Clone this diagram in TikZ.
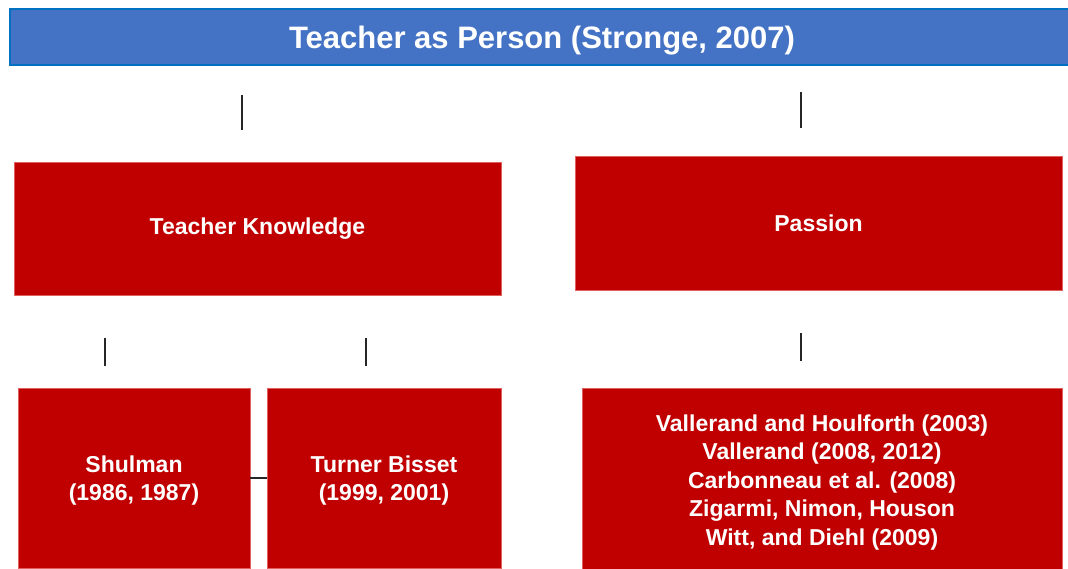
\documentclass[tikz,border=0pt]{standalone}
\usepackage{fontspec}
\setmainfont{Liberation Sans}
\usetikzlibrary{positioning}
\definecolor{barblue}{HTML}{4472C4}
\definecolor{baredge}{HTML}{0070C0}
\definecolor{boxred}{HTML}{C00000}
\definecolor{boxedge}{HTML}{E06060}

\tikzset{
  redbox/.style={draw=boxedge, line width=0.7pt, fill=boxred, text=white, align=center,
    inner sep=0pt, font=\fontsize{23}{28.5}\selectfont\bfseries},
  stub/.style={line width=1.5pt, black!85}
}

\begin{document}
\begin{tikzpicture}[x=1pt,y=-1pt]
\useasboundingbox (0,0) rectangle (1068,569);
\clip (0,0) rectangle (1068,569);

% Title bar
\node[draw=baredge, line width=2pt, fill=barblue, text=white, minimum width=1064pt, minimum height=56pt,
  text depth=0pt, font=\fontsize{31}{36}\selectfont\bfseries] (person) at (542,37) {Teacher as Person (Stronge, 2007)};

% Second level
\node[redbox, minimum width=487pt, minimum height=133pt] (know) at (257.5,228.5) {Teacher Knowledge};
\node[redbox, minimum width=487pt, minimum height=134pt] (passion) at (818.5,223) {Passion};

% Third level
\node[redbox, text depth=0pt, minimum width=232pt, minimum height=180pt] (shulman) at (134,478) {Shulman\\(1986, 1987)};
\node[redbox, text depth=0pt, minimum width=234pt, minimum height=180pt] (turner) at (384,478) {Turner Bisset\\(1999, 2001)};
\node[redbox, text depth=0pt, minimum width=480pt, minimum height=184pt] (vall) at (822,480)
  {Vallerand and Houlforth (2003)\\Vallerand (2008, 2012)\\Carbonneau et al. (2008)\\Zigarmi, Nimon, Houson\\Witt, and Diehl (2009)};

% Short stubs between levels
\coordinate (kt) at (242,95);   \coordinate (kb) at (242,130);
\coordinate (pt) at (801,92);   \coordinate (pb) at (801,128);
\coordinate (st) at (105,338);  \coordinate (sb) at (105,366);
\coordinate (tt) at (366,338);  \coordinate (tb) at (366,366);
\coordinate (vt) at (801,333);  \coordinate (vb) at (801,361);
\draw[stub] (kt) -- (kb);
\draw[stub] (pt) -- (pb);
\draw[stub] (st) -- (sb);
\draw[stub] (tt) -- (tb);
\draw[stub] (vt) -- (vb);

\draw[stub] (shulman) -- (turner);
\end{tikzpicture}
\end{document}
